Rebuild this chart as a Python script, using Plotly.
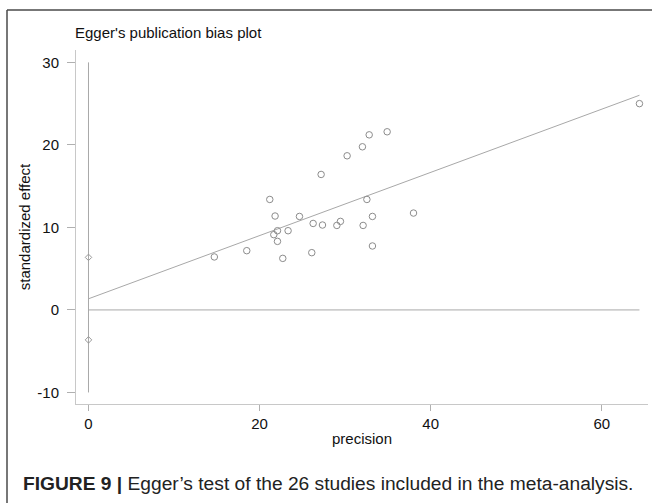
import plotly.graph_objects as go

# Study data
precision = [14.71, 18.50, 21.19, 21.81, 21.66, 22.09, 22.09, 22.71, 23.33, 24.66,
             26.10, 26.26, 27.19, 27.35, 29.03, 29.45, 30.23, 32.02, 32.81, 34.91,
             32.54, 33.19, 37.99, 32.10, 33.19, 64.40]
std_effect = [6.42, 7.18, 13.39, 11.38, 9.12, 9.60, 8.31, 6.25, 9.60, 11.33,
              6.94, 10.48, 16.42, 10.29, 10.24, 10.73, 18.68, 19.77, 21.22, 21.59,
              13.39, 11.33, 11.74, 10.24, 7.75, 25.00]

# Egger regression
intercept = 1.35
slope = 0.383
intercept_ci = [6.37, -3.63]
yaxis_ref = [-10, 30]

x_ticks = [0, 20, 40, 60]
x_ticktext = ["0", "20", "40", "60"]
y_ticks = [-10, 0, 10, 20, 30]
y_ticktext = ["-10", "0", "10", "20", "30"]

x_max = max(precision)
reg_x = [0, x_max]
reg_y = [intercept + slope * v for v in reg_x]

font = "Liberation Sans, Arial, sans-serif"
grey_line = "#a8a8a8"

fig = go.Figure()
fig.add_trace(go.Scatter(x=[0, 0], y=yaxis_ref, mode="lines",
                         line=dict(color=grey_line, width=1), hoverinfo="skip"))
fig.add_trace(go.Scatter(x=[0, x_max], y=[0, 0], mode="lines",
                         line=dict(color=grey_line, width=1), hoverinfo="skip"))
fig.add_trace(go.Scatter(x=reg_x, y=reg_y, mode="lines",
                         line=dict(color=grey_line, width=1), hoverinfo="skip"))
fig.add_trace(go.Scatter(x=[0, 0], y=intercept_ci, mode="markers", cliponaxis=False,
                         marker=dict(symbol="diamond-open", size=5,
                                     color="#999999", line=dict(width=1))))
fig.add_trace(go.Scatter(x=precision, y=std_effect, mode="markers", cliponaxis=False,
                         marker=dict(symbol="circle-open", size=6.5,
                                     color="#8c8c8c", line=dict(width=1))))

fig.update_layout(
    width=652, height=503,
    paper_bgcolor="white", plot_bgcolor="white",
    showlegend=False,
    margin=dict(l=76, r=4, t=50, b=99),
    font=dict(family=font, color="#222222"),
    title=dict(text="Egger's publication bias plot", x=75/652, xanchor="left",
               y=1 - 33/503, yanchor="middle", automargin=False,
               font=dict(size=15, family=font, color="#111")),
    xaxis=dict(range=[-1.46, 65.4], tickvals=x_ticks, ticktext=x_ticktext,
               showgrid=False, zeroline=False, automargin=False,
               showline=True, linecolor="#c8c8c8", linewidth=1,
               ticks="outside", ticklen=6, tickcolor="#b0b0b0",
               tickfont=dict(size=15, family=font, color="#111"),
               title=dict(text="precision", font=dict(size=15, family=font, color="#111"),
                          standoff=2)),
    yaxis=dict(range=[-11.4, 31.5], tickvals=y_ticks, ticktext=y_ticktext,
               showgrid=False, zeroline=False, automargin=False,
               showline=True, linecolor="#c8c8c8", linewidth=1,
               ticks="outside", ticklen=8, tickcolor="#b0b0b0",
               ticklabelstandoff=5,
               tickfont=dict(size=15, family=font, color="#111"),
               title=dict(text="standardized effect", font=dict(size=15, family=font, color="#111"),
                          standoff=3)),
)

# figure frame (left and top borders)
fig.add_shape(type="line", xref="paper", yref="paper", x0=-69/572, x1=-69/572,
              y0=1 + 40/354, y1=-99/354, line=dict(color="#4a4a4a", width=1.5))
fig.add_shape(type="line", xref="paper", yref="paper", x0=-69/572, x1=1 + 4/572,
              y0=1 + 40/354, y1=1 + 40/354, line=dict(color="#4a4a4a", width=1.5))

fig.add_annotation(text="<b>FIGURE 9 |</b> Egger’s test of the 26 studies included in the meta-analysis.",
                   xref="paper", yref="paper", x=-55/572, xanchor="left",
                   y=-(484 - 404) / 354, yanchor="middle", showarrow=False,
                   font=dict(size=19.2, family=font, color="#222"))

fig.write_html("out.html", config={"displayModeBar": False},
               post_script="document.body.style.margin='0';")
